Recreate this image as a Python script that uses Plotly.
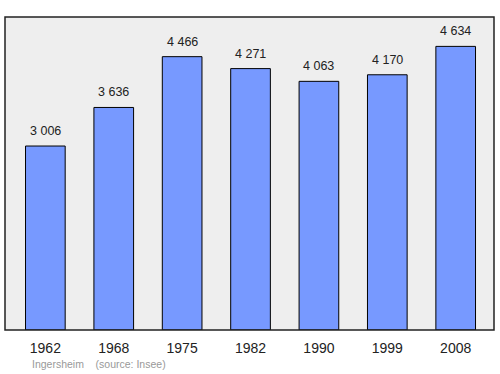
import plotly.graph_objects as go

years = ["1962", "1968", "1975", "1982", "1990", "1999", "2008"]
population = [3006, 3636, 4466, 4271, 4063, 4170, 4634]
labels = ["3 006", "3 636", "4 466", "4 271", "4 063", "4 170", "4 634"]

fig = go.Figure()
fig.add_trace(go.Bar(
    x=years, y=population,
    marker=dict(color="#7799ff", line=dict(color="black", width=1)),
    width=0.58, hoverinfo="skip",
))
for i, (v, lab) in enumerate(zip(population, labels)):
    fig.add_annotation(x=i, y=v, xref="x", yref="y", text=lab, showarrow=False,
                       yanchor="bottom", yshift=6,
                       font=dict(family="Liberation Sans, Arial", size=12.5, color="#222"))

fig.add_shape(type="rect", xref="paper", yref="paper", x0=0, y0=0, x1=1, y1=1,
              line=dict(color="#222", width=1.5), layer="above")
fig.add_annotation(xref="paper", yref="paper", x=0.052, y=-0.108, xanchor="left", yanchor="middle",
                   text="Ingersheim    (source: Insee)", showarrow=False,
                   font=dict(family="Liberation Sans, Arial", size=10.5, color="#999999"))

fig.update_layout(
    width=500, height=374, margin=dict(l=5, r=6, t=17, b=44),
    paper_bgcolor="white", plot_bgcolor="#eeeeee", showlegend=False,
    xaxis=dict(type="category", range=[-0.59, 6.56], showgrid=False, zeroline=False,
               ticks="outside", ticklen=5, tickcolor="rgba(0,0,0,0)",
               tickfont=dict(family="Liberation Sans, Arial", size=14, color="#222")),
    yaxis=dict(range=[0, 5114], showgrid=False, zeroline=False, showticklabels=False),
)
fig.write_html("out.html")
